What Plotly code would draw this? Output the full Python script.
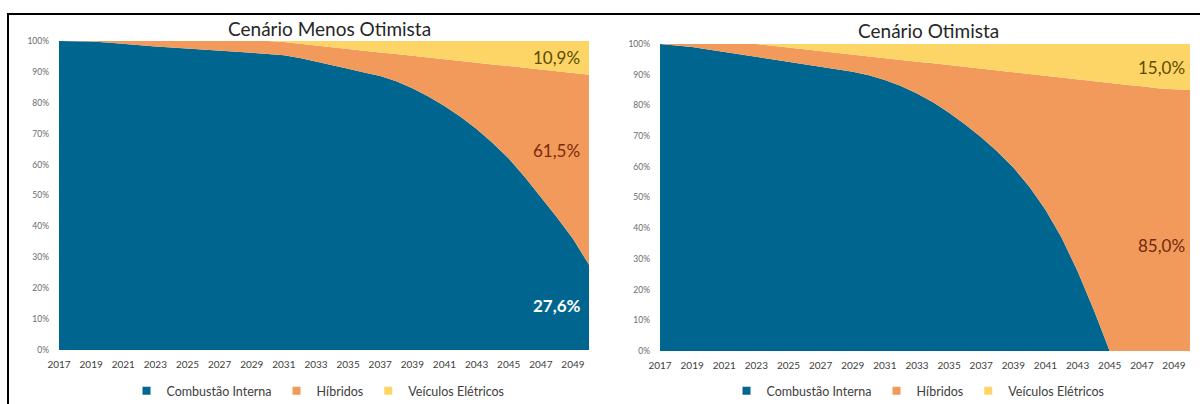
import plotly.graph_objects as go

# Years on the horizontal axis
years = list(range(2017, 2051))
tick_years = list(range(2017, 2050, 2))
y_ticks = list(range(0, 101, 10))
y_tick_labels = [f"{v}%" for v in y_ticks]

# Cenário Menos Otimista: share of each technology (%)
menos_combustao = [100, 100, 99.8, 99.5, 99.0, 98.6, 98.2, 97.9, 97.6, 97.3,
                   97.0, 96.6, 96.2, 95.8, 95.4, 94.5, 93.4, 92.2, 91.0, 89.8,
                   88.7, 87.0, 84.7, 82.0, 79.0, 75.5, 71.5, 67.0, 62.0, 56.0,
                   49.5, 43.0, 36.0, 27.6]
menos_eletricos = [0, 0, 0, 0, 0, 0, 0, 0, 0, 0,
                   0, 0, 0, 0, 0.3, 0.9, 1.5, 2.0, 2.6, 3.1,
                   3.7, 4.2, 4.8, 5.3, 5.9, 6.5, 7.0, 7.6, 8.1, 8.7,
                   9.2, 9.8, 10.3, 10.9]
menos_hibridos = [round(100 - c - e, 1) for c, e in zip(menos_combustao, menos_eletricos)]

# Cenário Otimista: share of each technology (%)
otim_combustao = [100, 99.6, 99.0, 98.2, 97.4, 96.6, 95.9, 95.2, 94.4, 93.6,
                  92.8, 92.0, 91.0, 89.8, 88.3, 86.3, 83.9, 81.0, 77.6, 73.8,
                  69.6, 65.0, 59.8, 53.5, 46.0, 37.0, 26.0, 13.5, 0, 0,
                  0, 0, 0, 0]
otim_eletricos = [0, 0, 0, 0, 0, 0, 0, 0.6, 1.2, 1.7,
                  2.3, 2.9, 3.5, 4.0, 4.6, 5.2, 5.8, 6.3, 6.9, 7.5,
                  8.1, 8.7, 9.2, 9.8, 10.4, 11.0, 11.5, 12.1, 12.7, 13.3,
                  13.8, 14.4, 14.7, 15.0]
otim_hibridos = [round(100 - c - e, 1) for c, e in zip(otim_combustao, otim_eletricos)]

series_names = ["Combustão Interna", "Híbridos", "Veículos Elétricos"]
colors = ["#00668F", "#F29A5B", "#FCD566"]

W, H = 1200, 404


def px_x(p):
    return p / W


def px_y(p):
    return 1 - p / H


fig = go.Figure()

panels = [
    ("x", "y", "legend", [menos_combustao, menos_hibridos, menos_eletricos], "menos"),
    ("x2", "y2", "legend2", [otim_combustao, otim_hibridos, otim_eletricos], "otim"),
]

for xa, ya, leg, series, group in panels:
    for name, vals, col in zip(series_names, series, colors):
        fig.add_trace(go.Scatter(
            x=years, y=vals, xaxis=xa, yaxis=ya, stackgroup=group,
            mode="lines", line=dict(width=0, color=col), fillcolor=col,
            name=name, showlegend=False, hoverinfo="x+y+name"))
    # small square swatches for the legend
    for name, col in zip(series_names, colors):
        fig.add_trace(go.Scatter(
            x=[None], y=[None], xaxis=xa, yaxis=ya, mode="markers",
            marker=dict(symbol="square", size=8, color=col),
            name=name, legend=leg, showlegend=True))

font_family = "Lato, 'Open Sans', sans-serif"

axis_x = dict(range=[2017, 2050], tickmode="array", tickvals=tick_years,
              showgrid=False, zeroline=False, showline=False, ticks="",
              ticklabelstandoff=7, automargin=False,
              tickfont=dict(size=10, color="#404040", family=font_family))
axis_y = dict(range=[0, 100], tickmode="array", tickvals=y_ticks,
              ticktext=y_tick_labels, showgrid=False, zeroline=False,
              showline=False, ticks="", ticklabelstandoff=9, automargin=False,
              tickfont=dict(size=8.5, color="#6A6A6A", family=font_family))

legend_style = dict(orientation="h", xanchor="center", yanchor="middle",
                    itemwidth=30, traceorder="normal", bgcolor="rgba(0,0,0,0)",
                    font=dict(size=12.5, color="#404040", family=font_family))

fig.update_layout(
    width=W, height=H,
    margin=dict(l=0, r=0, t=0, b=0, autoexpand=False),
    paper_bgcolor="white", plot_bgcolor="white",
    font=dict(family=font_family),
    xaxis=dict(axis_x, domain=[px_x(59), px_x(589)], anchor="y"),
    yaxis=dict(axis_y, domain=[px_y(350), px_y(41)], anchor="x"),
    xaxis2=dict(axis_x, domain=[px_x(660), px_x(1190)], anchor="y2"),
    yaxis2=dict(axis_y, domain=[px_y(351), px_y(44)], anchor="x2"),
    legend=dict(legend_style, x=px_x(318), y=px_y(391)),
    legend2=dict(legend_style, x=px_x(918), y=px_y(391)),
    showlegend=True,
)


def pct(v):
    return f"{v:.1f}".replace(".", ",") + "%"


annotations = [
    dict(text="Cenário Menos Otimista", x=px_x(329), y=px_y(29), xref="paper",
         yref="paper", xanchor="center", yanchor="middle", showarrow=False,
         font=dict(size=19, color="#262626")),
    dict(text="Cenário Otimista", x=px_x(928), y=px_y(31), xref="paper",
         yref="paper", xanchor="center", yanchor="middle", showarrow=False,
         font=dict(size=19, color="#262626")),
    # end-of-period shares, left panel
    dict(text=pct(menos_eletricos[-1]), x=2048, y=94.5, xref="x", yref="y",
         showarrow=False, font=dict(size=17, color="#5E4A00")),
    dict(text=pct(menos_hibridos[-1]), x=2048, y=64.5, xref="x", yref="y",
         showarrow=False, font=dict(size=17, color="#7A2A0C")),
    dict(text="<b>" + pct(menos_combustao[-1]) + "</b>", x=2048, y=14.5,
         xref="x", yref="y", showarrow=False, font=dict(size=17, color="white")),
    # end-of-period shares, right panel
    dict(text=pct(otim_eletricos[-1]), x=2048.2, y=92.2, xref="x2", yref="y2",
         showarrow=False, font=dict(size=17, color="#5E4A00")),
    dict(text=pct(otim_hibridos[-1]), x=2048.2, y=34.5, xref="x2", yref="y2",
         showarrow=False, font=dict(size=17, color="#6E2A10")),
]
fig.update_layout(annotations=annotations)

# outer frame: top and left edges
fig.add_shape(type="line", xref="paper", yref="paper",
              x0=px_x(7), x1=1.01, y0=px_y(14), y1=px_y(14),
              line=dict(color="black", width=2))
fig.add_shape(type="line", xref="paper", yref="paper",
              x0=px_x(8), x1=px_x(8), y0=px_y(14), y1=-0.01,
              line=dict(color="black", width=2))

fig.write_html("out.html")
